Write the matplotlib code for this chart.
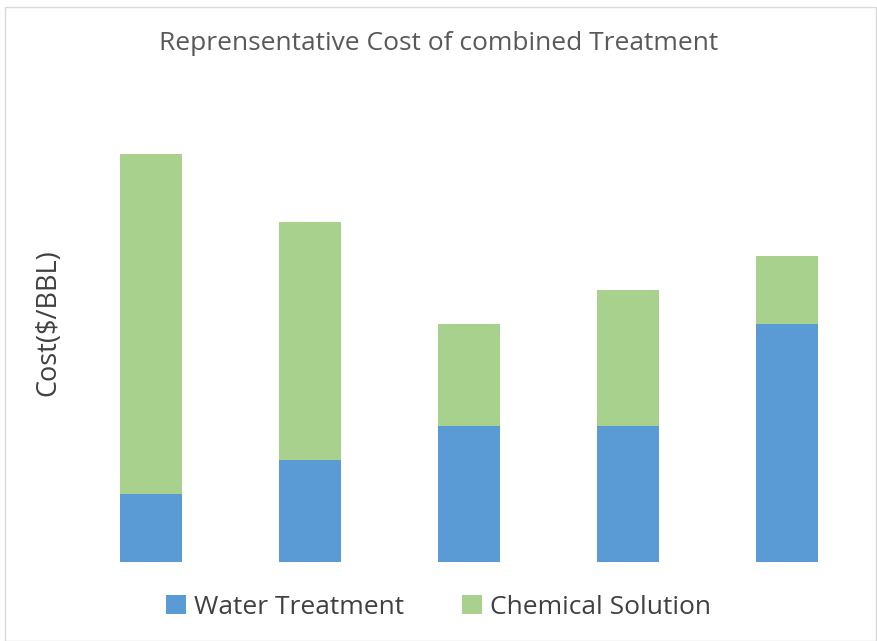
import matplotlib.pyplot as plt
from matplotlib.patches import Rectangle
import numpy as np

# Data (cost in $/BBL)
categories = ["A", "B", "C", "D", "E"]
water_treatment = [2, 3, 4, 4, 7]
chemical_solution = [10, 7, 3, 4, 2]

plt.rcParams['font.family'] = ['Open Sans', 'DejaVu Sans']

fig = plt.figure(figsize=(8.77, 6.41), dpi=100)
ax = fig.add_axes([71.5 / 877, 1 - 562 / 641, 795 / 877, 476 / 641])

# chart border like the spreadsheet frame
fig.patches.append(Rectangle((5 / 877, 0), 871 / 877, 1 - 7 / 641, transform=fig.transFigure,
                             fill=False, edgecolor="#d9d9d9", lw=1.0))

x = np.arange(len(categories))
ax.bar(x, water_treatment, width=0.384, color="#5b9bd5", label="Water Treatment")
ax.bar(x, chemical_solution, width=0.384, bottom=water_treatment, color="#a9d18e",
       label="Chemical Solution")

ax.set_xlim(-0.5, 4.5)
ax.set_ylim(0, 14)
ax.set_xticks([])
ax.set_yticks([])
for s in ax.spines.values():
    s.set_visible(False)

fig.text(48 / 877, 1 - 323 / 641, "Cost($/BBL)", rotation=90, ha="center", va="center",
         fontsize=19.5, color="#404040")

fig.text(0.5, 1 - 43 / 641, "Reprensentative Cost of combined Treatment", ha="center",
         va="center", fontsize=19, color="#595959")

fig.legend(loc="center", bbox_to_anchor=(0.5, 1 - 607 / 641), ncol=2, frameon=False,
           fontsize=19, labelcolor="#404040", handlelength=0.75, handleheight=0.75,
           handletextpad=0.3, columnspacing=2.2)

fig.savefig("out.png", dpi=100)
